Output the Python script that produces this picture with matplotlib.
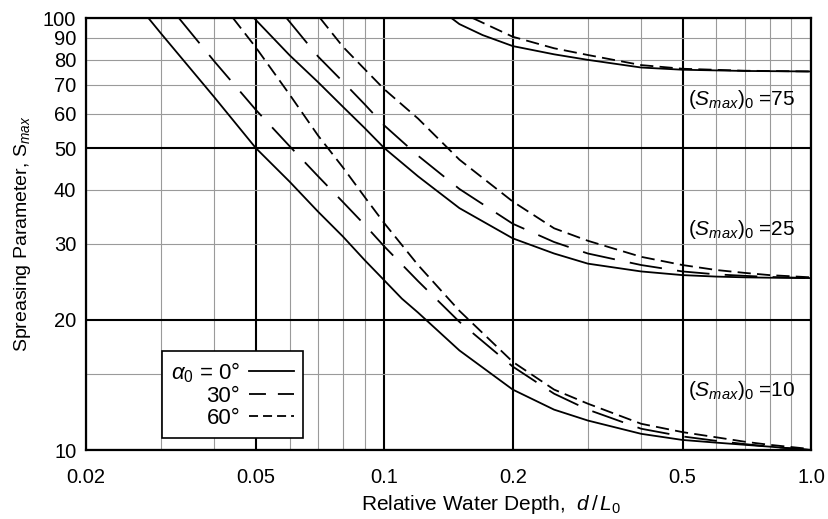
import matplotlib
matplotlib.use('Agg')
import matplotlib.pyplot as plt
from matplotlib.lines import Line2D

plt.rcParams['font.family'] = ['Liberation Sans', 'DejaVu Sans']
plt.rcParams['mathtext.fontset'] = 'custom'
plt.rcParams['mathtext.rm'] = 'Liberation Sans'
plt.rcParams['mathtext.it'] = 'Liberation Sans:italic'
plt.rcParams['lines.scale_dashes'] = False

# (S_max)_0 = 10
x_s10_0 = [0.028, 0.03, 0.04, 0.05, 0.06, 0.07, 0.08, 0.09, 0.1, 0.11, 0.12, 0.15, 0.2, 0.25, 0.3, 0.4, 0.5, 0.6, 0.7, 0.8, 1.0]
y_s10_0 = [100, 92, 65.5, 50, 41.8, 35.6, 31.2, 27.5, 24.7, 22.4, 20.8, 17.0, 13.8, 12.4, 11.7, 10.9, 10.55, 10.4, 10.28, 10.18, 10.0]
x_s10_30 = [0.033, 0.04, 0.05, 0.06, 0.07, 0.08, 0.09, 0.1, 0.12, 0.15, 0.2, 0.25, 0.3, 0.4, 0.5, 0.6, 0.7, 0.8, 1.0]
y_s10_30 = [100, 79.3, 61.3, 50.5, 43.0, 37.5, 33.2, 29.6, 24.6, 19.8, 15.6, 13.5, 12.4, 11.2, 10.75, 10.5, 10.32, 10.18, 10.0]
x_s10_60 = [0.0442, 0.05, 0.06, 0.07, 0.08, 0.09, 0.1, 0.12, 0.15, 0.2, 0.25, 0.3, 0.4, 0.5, 0.6, 0.7, 0.8, 1.0]
y_s10_60 = [100, 85.5, 66.5, 53.4, 45.1, 38.5, 33.5, 26.8, 21.0, 16.0, 13.8, 12.8, 11.5, 11.0, 10.7, 10.45, 10.28, 10.05]

# (S_max)_0 = 25
x_s25_0 = [0.0495, 0.06, 0.07, 0.08, 0.09, 0.1, 0.12, 0.15, 0.2, 0.25, 0.3, 0.4, 0.5, 0.6, 0.7, 0.8, 1.0]
y_s25_0 = [100, 82, 71, 62.3, 55.6, 50, 43.0, 36.3, 30.9, 28.5, 27.0, 25.9, 25.4, 25.2, 25.1, 25.05, 25.0]
x_s25_30 = [0.059, 0.07, 0.08, 0.09, 0.1, 0.12, 0.15, 0.2, 0.25, 0.3, 0.4, 0.5, 0.6, 0.7, 0.8, 1.0]
y_s25_30 = [100, 81.4, 71.2, 63.1, 56.4, 48.0, 40.2, 33.4, 30.3, 28.5, 26.8, 25.9, 25.5, 25.3, 25.15, 25.0]
x_s25_60 = [0.0707, 0.08, 0.09, 0.1, 0.12, 0.15, 0.2, 0.25, 0.3, 0.4, 0.5, 0.6, 0.7, 0.8, 1.0]
y_s25_60 = [100, 85.8, 76.1, 68.4, 58.5, 47.0, 37.6, 32.6, 30.5, 28.0, 26.8, 26.1, 25.7, 25.4, 25.1]

# (S_max)_0 = 75
x_s75_0 = [0.1436, 0.15, 0.17, 0.2, 0.25, 0.3, 0.4, 0.5, 0.7, 1.0]
y_s75_0 = [100, 96.8, 91.3, 86.1, 82.4, 80.0, 76.8, 75.9, 75.4, 75.2]
x_s75_60 = [0.161, 0.2, 0.25, 0.3, 0.4, 0.5, 0.7, 1.0]
y_s75_60 = [100, 90.5, 85.1, 82.1, 77.8, 76.3, 75.5, 75.2]

x_major = [0.02, 0.05, 0.1, 0.2, 0.5, 1.0]
x_major_labels = ['0.02', '0.05', '0.1', '0.2', '0.5', '1.0']
x_minor = [0.03, 0.04, 0.06, 0.07, 0.08, 0.09, 0.3, 0.4, 0.6, 0.7, 0.8, 0.9]
y_major = [10, 20, 50, 100]
y_minor = [15, 30, 40, 60, 70, 80, 90]
y_minor_labels = ['', '30', '40', '60', '70', '80', '90']

curve_labels = [(r'$(S_{max})_0$ =75', 63.0), (r'$(S_{max})_0$ =25', 31.5), (r'$(S_{max})_0$ =10', 13.3)]

solid = dict(color='black', linewidth=1.3, linestyle='-')
long_dash = dict(color='black', linewidth=1.3, dashes=(23.5, 11))
short_dash = dict(color='black', linewidth=1.3, dashes=(9.5, 4.5))

fig = plt.figure(figsize=(8.29, 5.19), dpi=100)
ax = fig.add_axes([86 / 829, 69 / 519, 725 / 829, 432 / 519])
ax.set_xscale('log')
ax.set_yscale('log')
ax.set_xlim(0.02, 1.0)
ax.set_ylim(10, 100)

ax.plot(x_s10_0, y_s10_0, **solid)
ax.plot(x_s10_30, y_s10_30, **long_dash)
ax.plot(x_s10_60, y_s10_60, **short_dash)
ax.plot(x_s25_0, y_s25_0, **solid)
ax.plot(x_s25_30, y_s25_30, **long_dash)
ax.plot(x_s25_60, y_s25_60, **short_dash)
ax.plot(x_s75_0, y_s75_0, **solid)
ax.plot(x_s75_60, y_s75_60, **short_dash)

# ticks and grid
ax.set_xticks(x_major, x_major_labels)
ax.set_xticks(x_minor, [''] * len(x_minor), minor=True)
ax.set_yticks(y_major, [str(v) for v in y_major])
ax.set_yticks(y_minor, y_minor_labels, minor=True)
ax.tick_params(axis='both', which='both', length=0, labelsize=14.5)
ax.tick_params(axis='x', which='both', pad=13)
ax.tick_params(axis='y', which='both', pad=7)
ax.grid(True, which='major', color='black', linewidth=1.5)
ax.grid(True, which='minor', color='#9a9a9a', linewidth=0.8)
ax.set_axisbelow(True)
for sp in ax.spines.values():
    sp.set_linewidth(1.6)
    sp.set_color('black')

for txt, yv in curve_labels:
    ax.text(0.515, yv, txt, fontsize=15, ha='left', va='baseline')

ax.set_ylabel(r'Spreasing Parameter, $\mathrm{S}_{max}$', fontsize=14, labelpad=7)
fig.text(491 / 829, 1 - 510 / 519, r'Relative Water Depth,  $d\,/\,L_0$', fontsize=15,
         ha='center', va='baseline')

handles = [Line2D([], [], color='black', linewidth=1.3, linestyle='-'),
           Line2D([], [], color='black', linewidth=1.3, dashes=(12.2, 8.6)),
           Line2D([], [], color='black', linewidth=1.3, dashes=(6.5, 3.6))]
legend = ax.legend(handles, [r'$\alpha_0$ = 0°', '30°', '60°'], loc='lower left',
                   bbox_to_anchor=(0.105, 0.028), borderaxespad=0, fontsize=16,
                   markerfirst=False, alignment='right', fancybox=False,
                   framealpha=1, handlelength=2.0, handletextpad=0.4,
                   labelspacing=0.05, borderpad=0.4)
legend.get_frame().set_edgecolor('black')
legend.get_frame().set_linewidth(1.2)

fig.savefig('out.png', dpi=100, facecolor='white')
